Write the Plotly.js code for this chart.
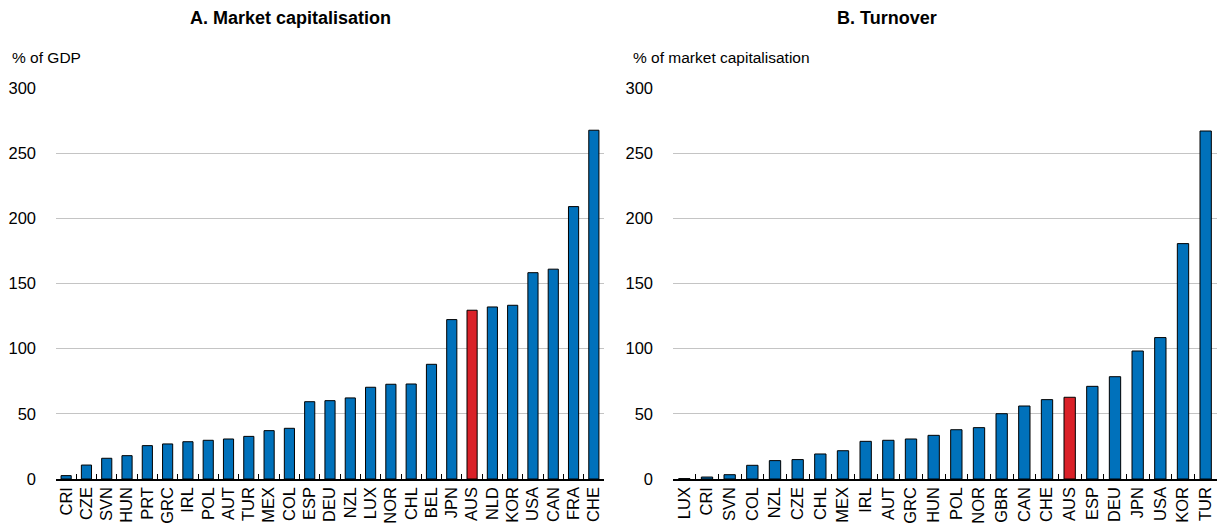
<!DOCTYPE html>
<html>
<head>
<meta charset="utf-8">
<script src="https://cdn.plot.ly/plotly-3.0.1.min.js"></script>
<style>
  html, body { margin: 0; padding: 0; background: #fff; }
  #chart { width: 1221px; height: 525px; }
</style>
</head>
<body>
<div id="chart"></div>
<script>
// Panel A: market capitalisation, % of GDP
const capCountries = ['CRI', 'CZE', 'SVN', 'HUN', 'PRT', 'GRC', 'IRL', 'POL', 'AUT', 'TUR', 'MEX', 'COL', 'ESP', 'DEU',
    'NZL', 'LUX', 'NOR', 'CHL', 'BEL', 'JPN', 'AUS', 'NLD', 'KOR', 'USA', 'CAN', 'FRA', 'CHE'];
const capValues = [2.6, 10.7, 15.9, 17.9, 25.6, 26.9, 28.6, 29.7, 30.7, 32.7, 37.1, 38.9, 59.3, 60.1,
    62.2, 70.4, 72.7, 72.9, 88, 122.3, 129.5, 132, 133.3, 158.3, 161, 209, 267.6];

// Panel B: turnover, % of market capitalisation
const turnCountries = ['LUX', 'CRI', 'SVN', 'COL', 'NZL', 'CZE', 'CHL', 'MEX', 'IRL', 'AUT', 'GRC', 'HUN', 'POL', 'NOR',
    'GBR', 'CAN', 'CHE', 'AUS', 'ESP', 'DEU', 'JPN', 'USA', 'KOR', 'TUR'];
const turnValues = [0.3, 1.5, 3.3, 10.5, 14.1, 14.9, 19.2, 21.7, 28.9, 29.7, 30.7, 33.5, 37.8, 39.4,
    50.1, 56, 60.9, 62.7, 71.1, 78.5, 98.2, 108.5, 180.6, 267];

const yTicks = [0, 50, 100, 150, 200, 250, 300];
const highlight = 'AUS';

const BLUE = '#0071BB';
const RED = '#DA2128';
const FONT = 'Liberation Sans, Arial, sans-serif';

function barColors(cats) {
    return cats.map(c => c === highlight ? RED : BLUE);
}

const traces = [
    {
        type: 'bar',
        x: capCountries,
        y: capValues,
        xaxis: 'x',
        yaxis: 'y',
        marker: { color: barColors(capCountries), line: { color: '#000', width: 1 } },
        hoverinfo: 'x+y'
    },
    {
        type: 'bar',
        x: turnCountries,
        y: turnValues,
        xaxis: 'x2',
        yaxis: 'y2',
        marker: { color: barColors(turnCountries), line: { color: '#000', width: 1 } },
        hoverinfo: 'x+y'
    }
];

const xAxisBase = {
    type: 'category',
    tickangle: -90,
    showline: true,
    linecolor: '#000',
    linewidth: 1.5,
    ticks: 'inside',
    tickson: 'boundaries',
    ticklen: 5,
    tickcolor: '#000',
    showgrid: false,
    zeroline: false,
    tickfont: { family: FONT, size: 16.5, color: '#000' },
    fixedrange: true
};

const yAxisBase = {
    range: [0, 300],
    tickvals: yTicks,
    showgrid: true,
    gridcolor: '#C4C4C4',
    gridwidth: 1.2,
    zeroline: false,
    showline: false,
    ticks: '',
    ticklabelstandoff: 19,
    tickfont: { family: FONT, size: 16.5, color: '#000' },
    fixedrange: true
};

const layout = {
    width: 1221,
    height: 525,
    margin: { l: 0, r: 0, t: 88, b: 46 },
    paper_bgcolor: '#fff',
    plot_bgcolor: '#fff',
    showlegend: false,
    bargap: 0.5,
    font: { family: FONT, color: '#000' },
    xaxis: Object.assign({}, xAxisBase, { domain: [56 / 1221, 604 / 1221], anchor: 'y' }),
    yaxis: Object.assign({}, yAxisBase, { anchor: 'x' }),
    xaxis2: Object.assign({}, xAxisBase, { domain: [673 / 1221, 1217 / 1221], anchor: 'y2' }),
    yaxis2: Object.assign({}, yAxisBase, { anchor: 'x2' }),
    annotations: [
        {
            text: '<b>A. Market capitalisation</b>',
            xref: 'paper', yref: 'paper',
            x: 290 / 1221, y: 1, yshift: 70,
            xanchor: 'center', yanchor: 'middle',
            showarrow: false,
            font: { family: FONT, size: 18, color: '#000' }
        },
        {
            text: '<b>B. Turnover</b>',
            xref: 'paper', yref: 'paper',
            x: 887 / 1221, y: 1, yshift: 70,
            xanchor: 'center', yanchor: 'middle',
            showarrow: false,
            font: { family: FONT, size: 18, color: '#000' }
        },
        {
            text: '% of GDP',
            xref: 'paper', yref: 'paper',
            x: 10 / 1221, y: 1, yshift: 31,
            xanchor: 'left', yanchor: 'middle',
            showarrow: false,
            font: { family: FONT, size: 15.5, color: '#000' }
        },
        {
            text: '% of market capitalisation',
            xref: 'paper', yref: 'paper',
            x: 631 / 1221, y: 1, yshift: 31,
            xanchor: 'left', yanchor: 'middle',
            showarrow: false,
            font: { family: FONT, size: 15.5, color: '#000' }
        }
    ]
};

const config = { responsive: false, displayModeBar: false, staticPlot: true };

Plotly.newPlot('chart', traces, layout, config);
</script>
</body>
</html>
